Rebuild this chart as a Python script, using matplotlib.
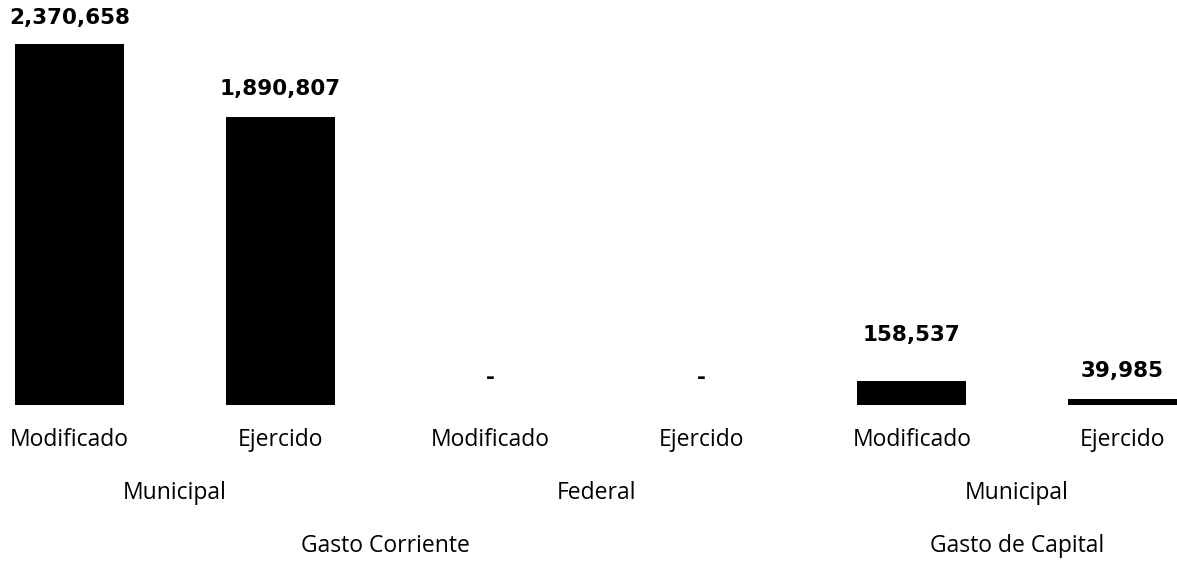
import matplotlib.pyplot as plt

# data
categories = ["Modificado", "Ejercido", "Modificado", "Ejercido", "Modificado", "Ejercido"]
values = [2370658, 1890807, 0, 0, 158537, 39985]
level2 = ["Municipal", "Federal", "Municipal"]
level2_span = [(0, 1), (2, 3), (4, 5)]
level3 = ["Gasto Corriente", "Gasto de Capital"]
level3_span = [(0, 3), (4, 5)]

# label offsets above bar top, in pixels
label_off_px = [26, 28, 27, 27, 46, 28]

DPI = 100
fig = plt.figure(figsize=(11.77, 5.62), dpi=DPI)
ax = fig.add_axes([0, (562 - 405) / 562, 1, 405 / 562])

x = list(range(len(values)))
ax.bar(x, values, width=0.52, color="black")

ax.set_xlim(-0.26 - 15 / 210.5, 5.26)
ax.set_ylim(0, 2370658 * 405 / 361)
ax.axis("off")

val_font = dict(family=["DejaVu Sans"], fontweight="bold", fontsize=15.5)
cat_font = dict(family=["Open Sans", "DejaVu Sans"], fontsize=16.5)

for xi, v, off in zip(x, values, label_off_px):
    txt = f"{v:,}" if v else "-"
    ax.annotate(txt, (xi, v), xytext=(0, off * 72 / DPI),
                textcoords="offset points", ha="center", va="center",
                **val_font)

# category rows below the bars, y given in figure pixels
def row(label, xpos, ypix):
    y_ax = -(ypix - 405) / 405
    ax.text(xpos, y_ax, label, transform=ax.get_xaxis_transform(),
            ha="center", va="center", **cat_font)

for xi, c in zip(x, categories):
    row(c, xi, 440)
for lab, (a, b) in zip(level2, level2_span):
    row(lab, (a + b) / 2, 493)
for lab, (a, b) in zip(level3, level3_span):
    row(lab, (a + b) / 2, 546)

fig.savefig("out.png", dpi=DPI)
